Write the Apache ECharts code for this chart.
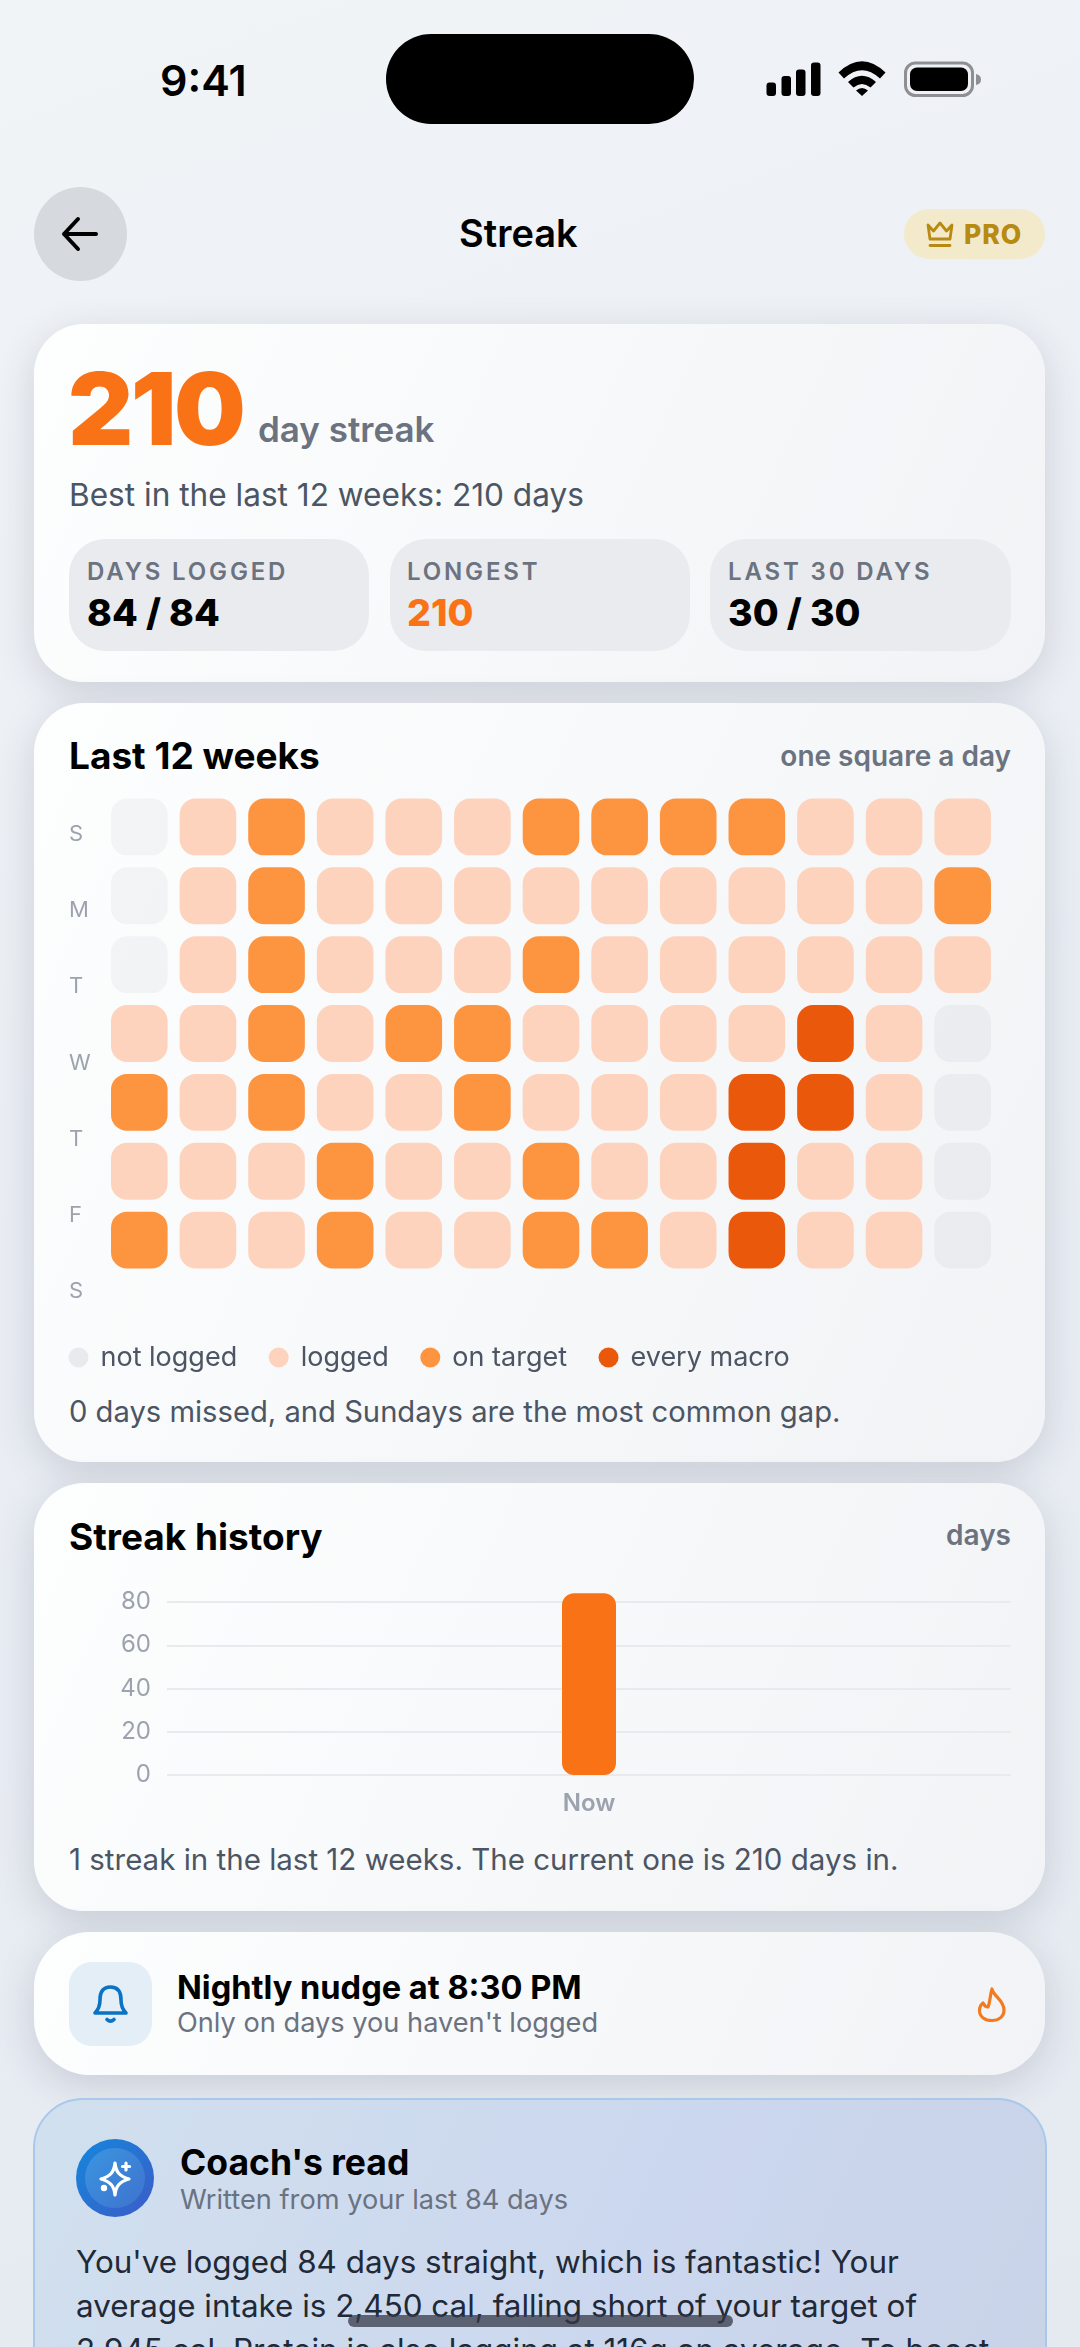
<!DOCTYPE html>
<html>

<head>
    <meta charset="utf-8">
    <title>Streak</title>
    <script src="https://cdn.jsdelivr.net/npm/echarts@6/dist/echarts.min.js"></script>
    <style>
        html, body {
            margin: 0;
            width: 1080px;
            height: 2347px;
            overflow: hidden;
        }

        body {
            position: relative;
            background: linear-gradient(160deg, #f1f4f7 0%, #eaeef4 45%, #e5eaf1 100%);
            font-family: Inter, "Noto Sans", sans-serif;
            color: #000;
        }

        .abs, .t, svg, .card, .chart {
            position: absolute;
        }

        .t {
            white-space: nowrap;
            line-height: 1.21;
        }

        .card {
            left: 34px;
            width: 1011px;
            border-radius: 50px;
            background: linear-gradient(115deg, #fdfefe 0%, #f1f3f6 100%);
            box-shadow: 0 10px 38px rgba(45, 55, 75, .17);
        }

        .stat {
            position: absolute;
            top: 539px;
            width: 300px;
            height: 112px;
            border-radius: 36px;
            background: #e9ebee;
        }

        .lbl { font-size: 24px; font-weight: 600; letter-spacing: 2.85px; color: #6b7280; top: 557px; }
        .val { font-size: 37.5px; font-weight: 800; top: 590px; }
        .head { font-size: 37px; font-weight: 700; }
        .side { font-size: 28px; font-weight: 600; color: #6b7280; right: 69px; }
        .note { color: #4b5563; left: 69px; }
        .sub { font-size: 27.2px; color: #6b7280; }
        .body { font-size: 31.4px; color: #1f2937; left: 76px; }
    </style>
</head>

<body>
    <!-- status bar -->
    <div class='t' style='left:160px;top:54px;font-size:43px;font-weight:600'>9:41</div>
    <div class='abs' style='left:386px;top:34px;width:308px;height:90px;border-radius:45px;background:#000'></div>
    <svg style='left:760px;top:55px' width='230' height='50' viewBox='760 55 230 50'>
        <rect x='766.5' y='82.5' width='9.5' height='13.5' rx='3' />
        <rect x='781.5' y='76' width='9.5' height='20' rx='3' />
        <rect x='796' y='69.5' width='9.5' height='26.5' rx='3' />
        <rect x='811' y='62.5' width='9.5' height='33.5' rx='3' />
        <path d='M838.5 72.5 Q862 50 885.5 72.5 L880 78.5 Q862 62 844 78.5 Z' />
        <path d='M848 82 Q862 69.5 876 82 L870.5 87.5 Q862 80.5 853.5 87.5 Z' />
        <path d='M856 90.5 Q862 85.5 868 90.5 L862 96 Z' />
        <rect x='905.5' y='63' width='67' height='32.5' rx='10' fill='none' stroke='#8e8e93' stroke-width='3' />
        <rect x='910' y='67.5' width='58' height='23.5' rx='7' />
        <path d='M976 74 Q981 75 981 79.5 Q981 84 976 85 Z' fill='#8e8e93' />
    </svg>

    <!-- nav -->
    <div class='abs' style='left:34px;top:187px;width:93px;height:94px;border-radius:50%;background:#d6d9dd'></div>
    <svg style='left:60px;top:214px' width='40' height='40' viewBox='0 0 40 40' fill='none' stroke='#000'
        stroke-width='4' stroke-linecap='round' stroke-linejoin='round'>
        <path d='M4 20 H36 M18 5 L4 20 L18 35' />
    </svg>
    <div class='t' id='title' style='left:459px;top:211px;font-size:38px;font-weight:600'>Streak</div>
    <div class='abs' style='left:904px;top:209px;width:141px;height:50px;border-radius:25px;background:#f2eaca'></div>
    <svg style='left:925px;top:220px' width='30' height='28' viewBox='0 0 30 28' fill='none' stroke='#b88a12'
        stroke-width='2.8' stroke-linejoin='round' stroke-linecap='round'>
        <path d='M3 5 L8.5 11 L15 3 L21.5 11 L27 5 L25 19 H5 Z M5 25.5 H25' />
    </svg>
    <div class='t' style='left:964px;top:218px;font-size:26.5px;font-weight:800;color:#b88a12;letter-spacing:1px'>PRO
    </div>

    <!-- streak summary -->
    <div class='card' style='top:324px;height:358px'></div>
    <div class='t' style='left:68px;top:347px;font-size:101px;font-weight:900;color:#f97316;letter-spacing:-2.5px'>210
    </div>
    <div class='t' style='left:258px;top:408px;font-size:35px;font-weight:600;color:#6b7280'>day streak</div>
    <div class='t note' style='top:476px;font-size:31.6px'>Best in the last 12 weeks: 210 days</div>
    <div class='stat' style='left:69px'></div>
    <div class='stat' style='left:390px'></div>
    <div class='stat' style='left:710px;width:301px'></div>
    <div class='t lbl' style='left:87px'>DAYS LOGGED</div>
    <div class='t val' style='left:87px'>84 / 84</div>
    <div class='t lbl' style='left:407px'>LONGEST</div>
    <div class='t val' style='left:407px;color:#f97316'>210</div>
    <div class='t lbl' style='left:728px'>LAST 30 DAYS</div>
    <div class='t val' style='left:728px'>30 / 30</div>

    <!-- heat map card -->
    <div class='card' style='top:703px;height:759px'></div>
    <div class='t head' style='left:69px;top:734px'>Last 12 weeks</div>
    <div class='t side' style='top:740px'>one square a day</div>
    <div class='chart' id='heat' style='left:34px;top:703px;width:1011px;height:680px'></div>
    <div class='t note' style='top:1394px;font-size:29.2px'>0 days missed, and Sundays are the most common gap.</div>

    <!-- history card -->
    <div class='card' style='top:1483px;height:428px'></div>
    <div class='t head' style='left:69px;top:1515px'>Streak history</div>
    <div class='t side' style='top:1519px'>days</div>
    <div class='chart' id='history' style='left:34px;top:1483px;width:1011px;height:350px'></div>
    <div class='t note' style='top:1842px;font-size:29.5px'>1 streak in the last 12 weeks. The current one is 210 days in.</div>

    <!-- nudge -->
    <div class='card' style='top:1932px;height:143px;border-radius:56px'></div>
    <div class='abs' style='left:69px;top:1962px;width:83px;height:84px;border-radius:23px;background:#e3eef6'></div>
    <svg style='left:90px;top:1982px' width='42' height='44' viewBox='0 0 42 44' fill='none' stroke='#0b72c4'
        stroke-width='3.6' stroke-linejoin='round' stroke-linecap='round'>
        <path d='M5 31 Q10 26 10 18 Q10 5 20.5 5 Q31 5 31 18 Q31 26 36 31 Z' />
        <path d='M17 37.5 Q20.5 41 24 37.5' />
    </svg>
    <div class='t' style='left:177px;top:1968px;font-size:32.6px;font-weight:700'>Nightly nudge at 8:30 PM</div>
    <div class='t sub' style='left:177px;top:2007px'>Only on days you haven't logged</div>
    <svg style='left:975px;top:1985px' width='34' height='40' viewBox='0 0 34 40' fill='none' stroke='#f47a1f'
        stroke-width='3.2' stroke-linejoin='round' stroke-linecap='round'>
        <path d='M17 4 C18 11 29 15 29 25 C29 32 23.5 35.5 17 35.5 C10 35.5 4.5 32 4.5 25.5 C4.5 22 6 19.5 8 18 C9.5 21 11 22 13 22 C15 18 15 10 17 4 Z' />
    </svg>

    <!-- coach -->
    <div class='card' style='top:2098px;height:320px;border:2px solid #a9c8ea;left:33px;width:1010px;background:linear-gradient(115deg,#d1e0ee 0%,#cbd7ee 60%,#c9d3e8 100%);box-shadow:none'></div>
    <div class='abs' style='left:76px;top:2139px;width:78px;height:78px;border-radius:50%;background:linear-gradient(135deg,#1487dc,#3c5cc8)'></div>
    <div class='abs' style='left:85px;top:2148px;width:60px;height:60px;border-radius:50%;background:linear-gradient(135deg,#3a96e0,#3f72cf)'></div>
    <svg style='left:95px;top:2158px' width='40' height='40' viewBox='0 0 40 40' fill='none' stroke='#fff'
        stroke-width='3.2' stroke-linejoin='round' stroke-linecap='round'>
        <path d='M20 5 C21 14 24 18 34 21 C24 24 21 28 20 37 C19 28 16 24 6 21 C16 18 19 14 20 5 Z' />
        <path d='M31 5 V12 M27.5 8.5 H34.5' />
        <circle cx='9' cy='30' r='1.6' fill='#fff' />
    </svg>
    <div class='t head' style='left:180px;top:2142px;font-size:35.5px'>Coach's read</div>
    <div class='t sub' style='left:180px;top:2184px'>Written from your last 84 days</div>
    <div class='t body' style='top:2243px'>You've logged 84 days straight, which is fantastic! Your</div>
    <div class='t body' style='top:2287px'>average intake is 2,450 cal, falling short of your target of</div>
    <div class='t body' style='top:2331px'>2,945 cal. Protein is also lagging at 116g on average. To boost</div>
    <div class='abs' style='left:348px;top:2315px;width:385px;height:12px;border-radius:6px;background:rgba(55,58,72,.75)'></div>

    <script>
        // 热力图数据
        var DAY_LABELS = ['S', 'M', 'T', 'W', 'T', 'F', 'S']
        var WEEKS = ['1', '2', '3', '4', '5', '6', '7', '8', '9', '10', '11', '12', '13']
        var LEVEL_NAMES = ['not logged', 'logged', 'on target', 'every macro']
        var LEVEL_COLORS = ['rgba(17,24,39,.038)', '#fed3bd', '#fd9440', '#ea580c']
        var LEVEL_DOTS = ['#e8eaed', '#fed3bd', '#fd9440', '#ea580c']
        var LEVELS = [
            [0, 1, 2, 1, 1, 1, 2, 2, 2, 2, 1, 1, 1],
            [0, 1, 2, 1, 1, 1, 1, 1, 1, 1, 1, 1, 2],
            [0, 1, 2, 1, 1, 1, 2, 1, 1, 1, 1, 1, 1],
            [1, 1, 2, 1, 2, 2, 1, 1, 1, 1, 3, 1, 0],
            [2, 1, 2, 1, 1, 2, 1, 1, 1, 3, 3, 1, 0],
            [1, 1, 1, 2, 1, 1, 2, 1, 1, 3, 1, 1, 0],
            [2, 1, 1, 2, 1, 1, 2, 2, 1, 3, 1, 1, 0],
        ]

        // 柱状图数据
        var HISTORY_LABELS = ['Now']
        var HISTORY_DAYS = [84]

        var CHART_FONT = 'Inter'

        function RenderCell(params, api) {
            var c = api.coord([api.value(0), api.value(1)])
            var s = api.size([1, 1])
            var w = s[0] - 12, h = s[1] - 12
            return {
                type: 'rect',
                shape: { x: c[0] - w / 2, y: c[1] - h / 2, width: w, height: h, r: 16 },
                style: api.style(),
            }
        }

        function CellsOf(level) {
            var res = []
            LEVELS.forEach((row, y) => row.forEach((v, x) => {
                if (v == level) res.push([x, y])
            }))
            return res
        }

        var heatChart = echarts.init(document.getElementById('heat'))
        heatChart.setOption({
            animation: false,
            legend: {
                left: 34.5,
                top: 641,
                padding: 0,
                itemWidth: 20,
                itemHeight: 20,
                itemGap: 31.5,
                icon: 'circle',
                selectedMode: false,
                textStyle: { fontFamily: CHART_FONT, fontSize: 27, color: '#4b5563', padding: [0, 0, 0, 7] },
                data: LEVEL_NAMES.map((n, i) => ({ name: n, itemStyle: { color: LEVEL_DOTS[i] } })),
            },
            grid: [
                { left: 71, top: 89.5, width: 892, height: 482 },
                { left: 71, top: 93.5, width: 892, height: 533 },
            ],
            xAxis: [
                { type: 'category', data: WEEKS, show: false, gridIndex: 0 },
                { type: 'category', data: WEEKS, show: false, gridIndex: 1 },
            ],
            yAxis: [
                { type: 'category', data: DAY_LABELS, inverse: true, show: false, gridIndex: 0 },
                {
                    type: 'category', data: DAY_LABELS, inverse: true, gridIndex: 1,
                    axisLine: { show: false },
                    axisTick: { show: false },
                    axisLabel: {
                        margin: 36, align: 'left', interval: 0,
                        fontFamily: CHART_FONT, fontSize: 22, color: '#9ca3af',
                    },
                },
            ],
            series: LEVEL_NAMES.map((n, i) => ({
                name: n,
                type: 'custom',
                renderItem: RenderCell,
                encode: { x: 0, y: 1 },
                itemStyle: { color: LEVEL_COLORS[i] },
                data: CellsOf(i),
            })),
        })

        var historyChart = echarts.init(document.getElementById('history'))
        historyChart.setOption({
            animation: false,
            grid: { left: 133, top: 119, width: 844, height: 173 },
            xAxis: {
                type: 'category',
                data: HISTORY_LABELS,
                axisLine: { show: false },
                axisTick: { show: false },
                axisLabel: { margin: 16.5, fontFamily: CHART_FONT, fontSize: 24, fontWeight: 600, color: '#9ca3af' },
            },
            yAxis: {
                type: 'value',
                min: 0,
                max: 80,
                interval: 20,
                axisLabel: {
                    margin: 16, padding: [4, 0, 0, 0],
                    fontFamily: CHART_FONT, fontSize: 24, color: '#9ca3af',
                },
                splitLine: { lineStyle: { color: '#e8eaed', width: 2 } },
            },
            series: [{
                type: 'bar',
                data: HISTORY_DAYS,
                barWidth: 54,
                clip: false,
                itemStyle: { color: '#f97316', borderRadius: 12 },
            }],
        })
    </script>
</body>

</html>
